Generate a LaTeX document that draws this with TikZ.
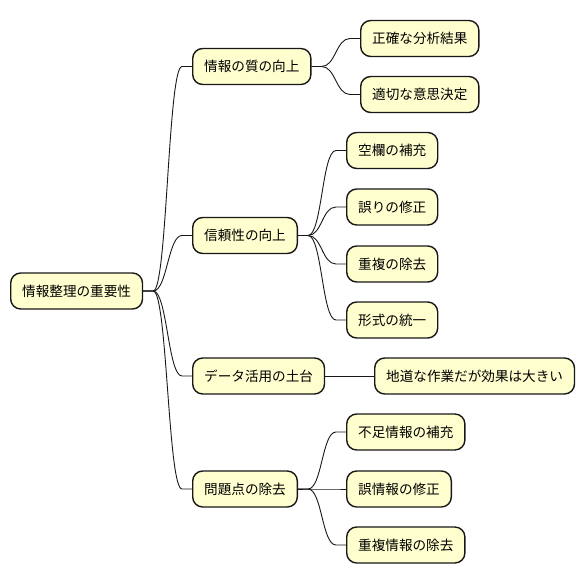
\documentclass[tikz,border=0pt]{standalone}
\usepackage{fontspec}
\setmainfont{Noto Sans CJK JP}
\usetikzlibrary{calc}
\definecolor{nodefill}{HTML}{FEFECE}
\definecolor{nodeline}{HTML}{181818}
\tikzset{
  mm/.style={draw=nodeline, fill=nodefill, line width=1.4bp, rounded corners=10bp,
    inner xsep=11.5bp, inner ysep=0pt, minimum height=36bp, anchor=west,
    font=\fontsize{13.6bp}{16bp}\selectfont, text=black},
  lnk/.style={draw=nodeline, line width=0.9bp}
}
\newcommand\mmlink[2]{%
  \draw[lnk] (#1.east) -- ++(10bp,0) coordinate (#1-#2-s)
    .. controls ($(#1-#2-s)+(14bp,0)$) and ($(#2.west)+(-24bp,0)$) .. ($(#2.west)+(-10bp,0)$)
    -- (#2.west);}
\begin{document}
\begin{tikzpicture}[x=1bp,y=-1bp]
\useasboundingbox (0,0) rectangle (586,583);
\node[mm] (root) at (10,291) {情報整理の重要性};
\node[mm] (a) at (192,66.5) {情報の質の向上};
\node[mm] (a1) at (360,38.5) {正確な分析結果};
\node[mm] (a2) at (360,94.5) {適切な意思決定};
\node[mm] (b) at (192,235.5) {信頼性の向上};
\node[mm] (b1) at (346,150.5) {空欄の補充};
\node[mm] (b2) at (346,207) {誤りの修正};
\node[mm] (b3) at (346,264) {重複の除去};
\node[mm] (b4) at (346,320) {形式の統一};
\node[mm] (c) at (192,376) {データ活用の土台};
\node[mm] (c1) at (374,376) {地道な作業だが効果は大きい};
\node[mm] (d) at (192,489) {問題点の除去};
\node[mm] (d1) at (346,432) {不足情報の補充};
\node[mm] (d2) at (346,489) {誤情報の修正};
\node[mm] (d3) at (346,545) {重複情報の除去};
\mmlink{root}{a}
\mmlink{root}{b}
\mmlink{root}{c}
\mmlink{root}{d}
\mmlink{a}{a1}
\mmlink{a}{a2}
\mmlink{b}{b1}
\mmlink{b}{b2}
\mmlink{b}{b3}
\mmlink{b}{b4}
\draw[lnk] (c.east) -- (c1.west);
\mmlink{d}{d1}
\mmlink{d}{d2}
\mmlink{d}{d3}
\end{tikzpicture}
\end{document}
